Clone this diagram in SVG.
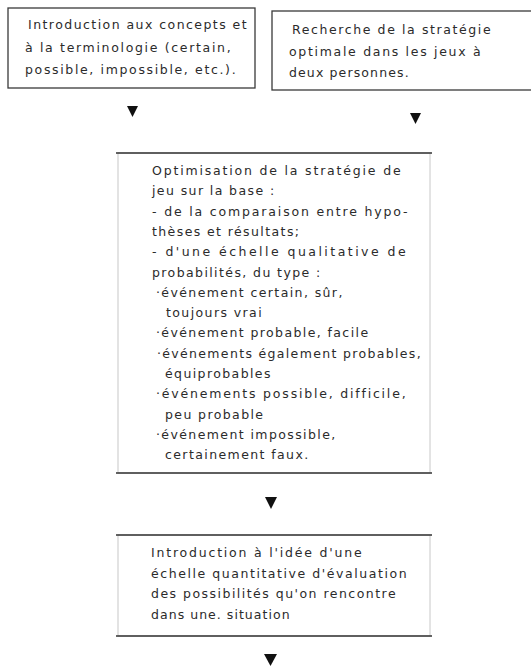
<svg xmlns="http://www.w3.org/2000/svg" width="531" height="671" viewBox="0 0 531 671">
<style>
.t{font-family:"DejaVu Sans","Liberation Sans",sans-serif;font-size:12.5px;letter-spacing:1.4px;fill:#2b2b2b}
.box{fill:#fff;stroke:#3a3a3a;stroke-width:1.3}
.side{fill:#fff;stroke:#c8c8c8;stroke-width:1}
.edge{stroke:#333;stroke-width:1.5}
.arr{fill:#111}
</style>
<rect width="531" height="671" fill="#fff"/>
<g id="n1">
<rect class="box" x="8" y="8" width="247" height="80"/>
<text class="t" x="28" y="29" textLength="220" lengthAdjust="spacing">Introduction aux concepts et</text>
<text class="t" x="25" y="52" textLength="207" lengthAdjust="spacing">à la terminologie (certain,</text>
<text class="t" x="25" y="74" textLength="212" lengthAdjust="spacing">possible, impossible, etc.).</text>
</g>
<g id="n2">
<rect class="box" x="272" y="11" width="262" height="79"/>
<text class="t" x="292" y="34" textLength="200" lengthAdjust="spacing">Recherche de la stratégie</text>
<text class="t" x="289" y="56" textLength="193" lengthAdjust="spacing">optimale dans les jeux à</text>
<text class="t" x="289" y="77" textLength="121" lengthAdjust="spacing">deux personnes.</text>
</g>
<g id="n3">
<rect class="side" x="118" y="153" width="312" height="320"/>
<line class="edge" x1="116" y1="153" x2="432" y2="153"/>
<line class="edge" x1="116" y1="473" x2="432" y2="473"/>
<text class="t" x="152" y="175" textLength="250" lengthAdjust="spacing">Optimisation de la stratégie de</text>
<text class="t" x="152" y="195.3">jeu sur la base :</text>
<text class="t" x="152" y="215.6" textLength="257" lengthAdjust="spacing">- de la comparaison entre hypo-</text>
<text class="t" x="152" y="235.9">thèses et résultats;</text>
<text class="t" x="152" y="256.2" textLength="255" lengthAdjust="spacing">- d'une échelle qualitative de</text>
<text class="t" x="152" y="276.5">probabilités, du type :</text>
<text class="t" x="156" y="296.8">·événement certain, sûr,</text>
<text class="t" x="166" y="317.1">toujours vrai</text>
<text class="t" x="156" y="337.4">·événement probable, facile</text>
<text class="t" x="157" y="357.7" textLength="265" lengthAdjust="spacing">·événements également probables,</text>
<text class="t" x="165" y="378">équiprobables</text>
<text class="t" x="156" y="398.3" textLength="251" lengthAdjust="spacing">·événements possible, difficile,</text>
<text class="t" x="165" y="418.6">peu probable</text>
<text class="t" x="156" y="438.9">·événement impossible,</text>
<text class="t" x="165" y="459.2">certainement faux.</text>
</g>
<g id="n4">
<rect class="side" x="118" y="535" width="312" height="101"/>
<line class="edge" x1="116" y1="535" x2="432" y2="535"/>
<line class="edge" x1="116" y1="636" x2="432" y2="636"/>
<text class="t" x="151" y="557" textLength="212" lengthAdjust="spacing">Introduction à l'idée d'une</text>
<text class="t" x="151" y="577.5" textLength="257" lengthAdjust="spacing">échelle quantitative d'évaluation</text>
<text class="t" x="151" y="598" textLength="246" lengthAdjust="spacing">des possibilités qu'on rencontre</text>
<text class="t" x="151" y="618.5" textLength="140" lengthAdjust="spacing">dans une. situation</text>
</g>
<g id="connectors">
<polygon class="arr" points="127,106 138,106 132.5,117"/>
<polygon class="arr" points="410,113 421,113 415.5,124"/>
<polygon class="arr" points="265,497 277,497 271,509"/>
<polygon class="arr" points="264,654 277,654 270.5,666"/>
</g>
</svg>
